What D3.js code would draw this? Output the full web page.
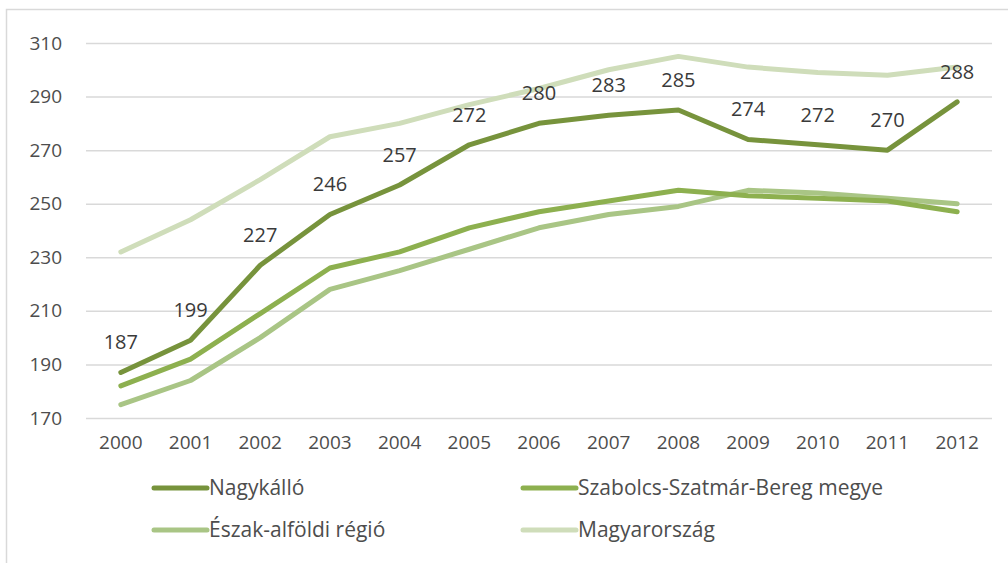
<!DOCTYPE html>
<html>
<head>
<meta charset="utf-8">
<script src="https://cdn.jsdelivr.net/npm/d3@7"></script>
<style>
  body { margin: 0; background: #fff; }
  text { font-family: "Open Sans", sans-serif; }
</style>
</head>
<body>
<svg id="chart" width="1008" height="563"></svg>
<script>
// ** DATA *****************************************
const years = ["2000", "2001", "2002", "2003", "2004", "2005", "2006", "2007", "2008", "2009", "2010", "2011", "2012"];
const seriesNames = ["Nagykálló", "Szabolcs-Szatmár-Bereg megye", "Észak-alföldi régió", "Magyarország"];
const nagykallo = [187, 199, 227, 246, 257, 272, 280, 283, 285, 274, 272, 270, 288];
const szabolcs = [182, 192, 209, 226, 232, 241, 247, 251, 255, 253, 252, 251, 247];
const eszakAlfold = [175, 184, 200, 218, 225, 233, 241, 246, 249, 255, 254, 252, 250];
const magyarorszag = [232, 244, 259, 275, 280, 287, 293, 300, 305, 301, 299, 298, 301];
const yTicks = [170, 190, 210, 230, 250, 270, 290, 310];

const seriesValues = [nagykallo, szabolcs, eszakAlfold, magyarorszag];
const colours = ["#77933C", "#8DB04F", "#A9C585", "#CFDDBA"];

// ** SETUP *****************************************
const svg = d3.select("#chart");
const MARGIN = { LEFT: 86, RIGHT: 16, TOP: 43, BOTTOM: 145 };
const width = 1008, height = 563;

// outer chart frame (runs off the right and bottom edges)
svg.append("rect")
    .attr("x", 6.5).attr("y", 9.5)
    .attr("width", 1020).attr("height", 600)
    .attr("fill", "none")
    .attr("stroke", "#d9d9d9")
    .attr("stroke-width", 1.5);

// ** SCALES *****************************************
const xScale = d3.scaleBand()
    .domain(years)
    .range([MARGIN.LEFT, width - MARGIN.RIGHT]);

const yScale = d3.scaleLinear()
    .domain([170, 310])
    .range([height - MARGIN.BOTTOM, MARGIN.TOP]);

const xPos = (d, i) => xScale(years[i]) + xScale.bandwidth() / 2;

// ** AXES *****************************************
const yAxis = d3.axisLeft(yScale)
    .tickValues(yTicks)
    .tickSize(-(width - MARGIN.LEFT - MARGIN.RIGHT))
    .tickPadding(24);

const yG = svg.append("g")
    .attr("transform", "translate(" + MARGIN.LEFT + ",0)")
    .call(yAxis);
yG.select(".domain").remove();
yG.selectAll(".tick line").attr("stroke", "#d9d9d9").attr("stroke-width", 1.5);
yG.selectAll(".tick text")
    .attr("fill", "#4d4d4d")
    .style("font-size", "19px")
    .style("font-family", "'Open Sans', sans-serif");

const xAxis = d3.axisBottom(xScale).tickSize(0).tickPadding(18);
const xG = svg.append("g")
    .attr("transform", "translate(0," + (height - MARGIN.BOTTOM) + ")")
    .call(xAxis);
xG.select(".domain").remove();
xG.selectAll(".tick text")
    .attr("fill", "#4d4d4d")
    .style("font-size", "19px")
    .style("font-family", "'Open Sans', sans-serif");

// ** LINES *****************************************
const line = d3.line()
    .x(xPos)
    .y(d => yScale(d));

// draw lightest first so the darker lines sit on top
for (let i = seriesValues.length - 1; i >= 0; i--) {
    svg.append("path")
        .datum(seriesValues[i])
        .attr("fill", "none")
        .attr("stroke", colours[i])
        .attr("stroke-width", 5)
        .attr("stroke-linejoin", "round")
        .attr("stroke-linecap", "round")
        .attr("d", line);
}

// data labels for Nagykálló
svg.append("g")
    .selectAll("text")
    .data(nagykallo)
    .enter()
    .append("text")
    .attr("x", xPos)
    .attr("y", d => yScale(d) - 23)
    .attr("text-anchor", "middle")
    .attr("fill", "#3a3a3a")
    .style("font-size", "20px")
    .text(d => d);

// ** LEGEND *****************************************
const legendX = [152, 521];
const legendY = [488, 530];

seriesNames.forEach((name, i) => {
    const lx = legendX[i % 2];
    const ly = legendY[Math.floor(i / 2)];
    const g = svg.append("g").attr("transform", "translate(" + lx + "," + ly + ")");
    g.append("line")
        .attr("x1", 2).attr("x2", 55)
        .attr("y1", 0).attr("y2", 0)
        .attr("stroke", colours[i])
        .attr("stroke-width", 5)
        .attr("stroke-linecap", "round");
    g.append("text")
        .attr("x", 57)
        .attr("y", 7)
        .attr("fill", "#4d4d4d")
        .style("font-size", "21px")
        .text(name);
});
</script>
</body>
</html>
